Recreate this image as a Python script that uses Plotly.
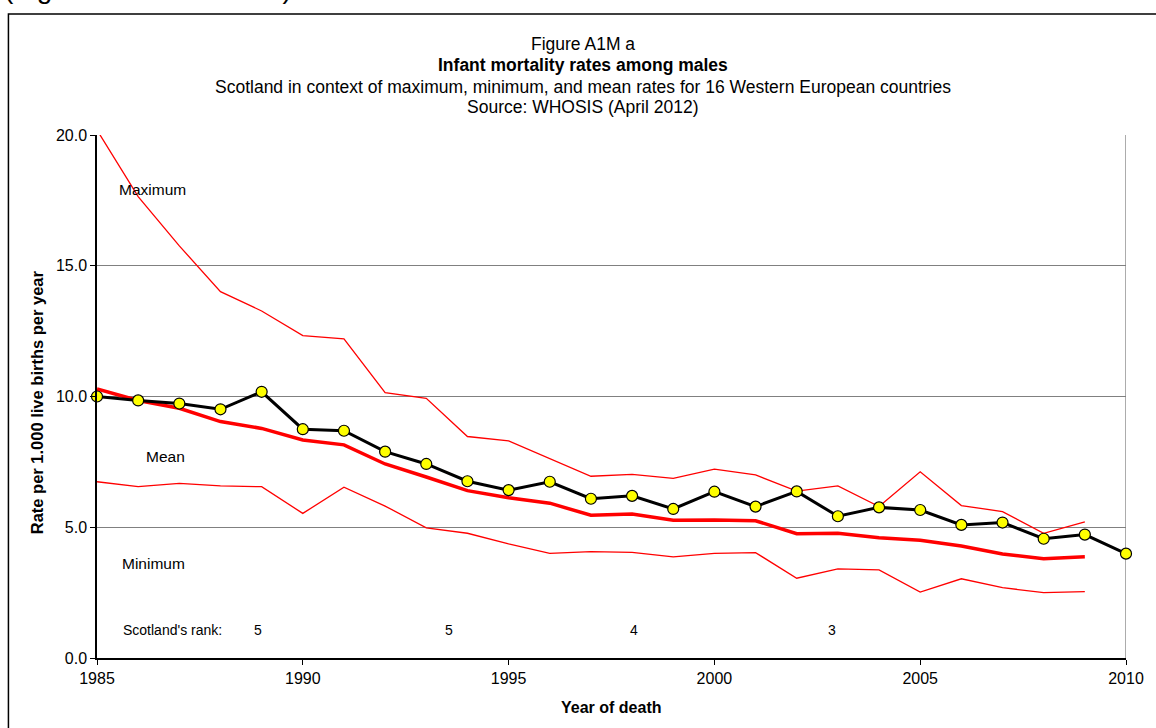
import plotly.graph_objects as go

# Infant mortality rates among males, per 1,000 live births
years = list(range(1985, 2011))
years_ref = list(range(1985, 2010))

scotland = [10.00, 9.85, 9.73, 9.51, 10.18, 8.75, 8.69, 7.89, 7.42, 6.76,
            6.42, 6.74, 6.09, 6.20, 5.70, 6.36, 5.79, 6.37, 5.42, 5.76,
            5.66, 5.09, 5.18, 4.56, 4.72, 3.99]
mean_rate = [10.29, 9.85, 9.55, 9.04, 8.78, 8.34, 8.15, 7.42, 6.92, 6.40,
             6.13, 5.92, 5.46, 5.51, 5.27, 5.28, 5.25, 4.75, 4.77, 4.60,
             4.50, 4.28, 3.98, 3.80, 3.87]
max_rate = [20.19, 17.64, 15.76, 14.01, 13.27, 12.33, 12.20, 10.15, 9.93, 8.47,
            8.30, 7.64, 6.95, 7.02, 6.87, 7.22, 7.00, 6.38, 6.58, 5.79,
            7.12, 5.83, 5.60, 4.77, 5.21]
min_rate = [6.74, 6.55, 6.68, 6.58, 6.55, 5.53, 6.53, 5.81, 4.98, 4.77,
            4.36, 4.00, 4.07, 4.04, 3.87, 4.00, 4.03, 3.05, 3.41, 3.37,
            2.52, 3.03, 2.69, 2.50, 2.54]

rank_labels = ["5", "5", "4", "3"]
rank_label_x = [1988.9, 1993.55, 1998.05, 2002.85]

x_ticks = [1985, 1990, 1995, 2000, 2005, 2010]
y_ticks = [0, 5, 10, 15, 20]

FONT = "Arial, Liberation Sans, sans-serif"

# figure geometry (pixels)
W, H = 1156, 728
L, R, T, B = 97, 25, 135, 70
PW, PH = W - L - R, H - T - B


def xp(px):
    return (px - L) / PW


def yp(py):
    return (H - B - py) / PH


fig = go.Figure()

fig.add_trace(go.Scatter(x=years_ref, y=max_rate, mode="lines",
                         line=dict(color="#FF0000", width=1.3), hoverinfo="skip"))
fig.add_trace(go.Scatter(x=years_ref, y=min_rate, mode="lines",
                         line=dict(color="#FF0000", width=1.3), hoverinfo="skip"))
fig.add_trace(go.Scatter(x=years_ref, y=mean_rate, mode="lines",
                         line=dict(color="#FF0000", width=3.5), hoverinfo="skip"))
fig.add_trace(go.Scatter(x=years, y=scotland, mode="lines+markers",
                         line=dict(color="#000000", width=3),
                         marker=dict(size=11, color="#FFFF00",
                                     line=dict(color="#000000", width=1.2)),
                         cliponaxis=False))

annotations = []

# title block
title_lines = [
    ("Figure A1M a", False, 44),
    ("Infant mortality rates among males", True, 65),
    ("Scotland in context of maximum, minimum, and mean rates for 16 Western European countries", False, 87),
    ("Source: WHOSIS (April 2012)", False, 107),
]
for text, bold, py in title_lines:
    annotations.append(dict(
        text=f"<b>{text}</b>" if bold else text,
        xref="paper", yref="paper", x=xp(585), y=yp(py),
        xanchor="center", yanchor="middle", showarrow=False,
        font=dict(family=FONT, size=17.5, color="#000000")))

# series labels inside the plot
for text, px, py in [("Maximum", 117, 190), ("Mean", 144, 456), ("Minimum", 120, 563)]:
    annotations.append(dict(
        text=text, xref="paper", yref="paper", x=xp(px), y=yp(py),
        xanchor="left", yanchor="middle", showarrow=False,
        font=dict(family=FONT, size=15.5, color="#000000")))

annotations.append(dict(
    text="Scotland's rank:", xref="paper", yref="paper", x=xp(121), y=yp(630),
    xanchor="left", yanchor="middle", showarrow=False,
    font=dict(family=FONT, size=14, color="#000000")))
for lab, rx in zip(rank_labels, rank_label_x):
    annotations.append(dict(
        text=lab, xref="x", yref="paper", x=rx, y=yp(630),
        xanchor="center", yanchor="middle", showarrow=False,
        font=dict(family=FONT, size=14, color="#000000")))

# axis titles
annotations.append(dict(
    text="<b>Year of death</b>", xref="paper", yref="paper", x=xp(613), y=yp(707),
    xanchor="center", yanchor="middle", showarrow=False,
    font=dict(family=FONT, size=16, color="#000000")))
annotations.append(dict(
    text="<b>Rate per 1.000 live births per year</b>", xref="paper", yref="paper",
    x=xp(37), y=yp(402), textangle=-90,
    xanchor="center", yanchor="middle", showarrow=False,
    font=dict(family=FONT, size=16.5, color="#000000")))

# preceding text line, only its lower edge is inside the page
annotations.append(dict(
    text="(Figures A1M and A1F)", xref="paper", yref="paper", x=xp(2), y=yp(6),
    xanchor="left", yanchor="bottom", showarrow=False,
    font=dict(family=FONT, size=28, color="#000000")))

shapes = [
    # outer chart frame
    dict(type="rect", xref="paper", yref="paper",
         x0=xp(8), x1=xp(1200), y0=yp(760), y1=yp(14),
         line=dict(color="#000000", width=1.5), layer="below"),
    # right edge of plot area
    dict(type="line", xref="x", yref="y", x0=2010, x1=2010, y0=0, y1=20,
         line=dict(color="#909090", width=1.5), layer="below"),
]

fig.update_layout(
    width=W, height=H,
    margin=dict(l=L, r=R, t=T, b=B),
    paper_bgcolor="#FFFFFF", plot_bgcolor="#FFFFFF",
    showlegend=False,
    annotations=annotations,
    shapes=shapes,
    font=dict(family=FONT, size=15, color="#000000"),
)

fig.update_xaxes(
    range=[1985, 2010], tickvals=x_ticks, ticktext=[str(v) for v in x_ticks],
    showgrid=False, zeroline=False,
    showline=True, linecolor="#000000", linewidth=1.5,
    ticks="outside", ticklen=5, tickcolor="#000000", tickwidth=1,
    tickfont=dict(family=FONT, size=16, color="#000000"),
)
fig.update_yaxes(
    range=[0, 20], tickvals=y_ticks, ticktext=[f"{v:.1f}" for v in y_ticks],
    showgrid=True, gridcolor="#808080", gridwidth=1.3, zeroline=False,
    showline=True, linecolor="#000000", linewidth=1.5,
    ticks="outside", ticklen=5, tickcolor="#000000", tickwidth=1,
    tickfont=dict(family=FONT, size=16, color="#000000"),
)

fig.write_html("out.html")
